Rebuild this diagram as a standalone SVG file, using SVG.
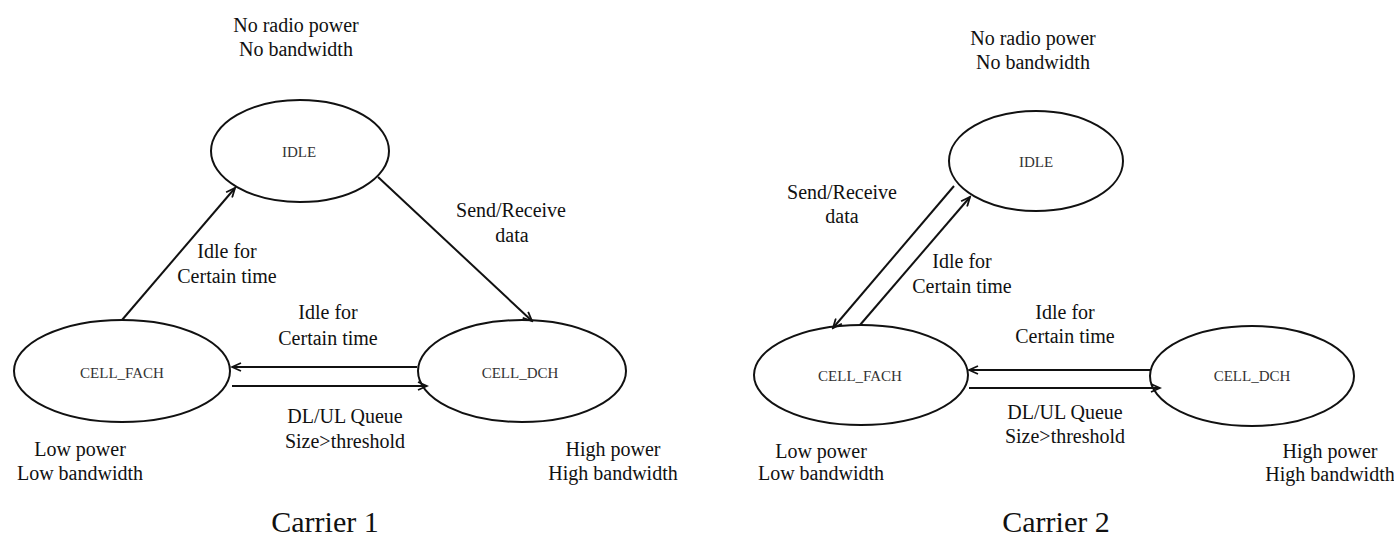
<svg xmlns="http://www.w3.org/2000/svg" width="1394" height="536" viewBox="0 0 1394 536">
  <style>
    .bg { fill: #ffffff; }
    .state { fill: none; stroke: #111; stroke-width: 2; }
    .state-label { font-family: "Liberation Serif", "Times New Roman", serif; font-size: 15px; fill: #333; text-anchor: middle; }
    .note { font-family: "Liberation Serif", "Times New Roman", serif; font-size: 20px; fill: #111; text-anchor: middle; }
    .caption { font-family: "Liberation Serif", "Times New Roman", serif; font-size: 30px; fill: #111; text-anchor: middle; }
    .edge { fill: none; stroke: #111; stroke-width: 2; marker-end: url(#arrow); }
  </style>
  <defs>
    <marker id="arrow" markerWidth="12" markerHeight="10" refX="10" refY="5" orient="auto" markerUnits="userSpaceOnUse">
      <path d="M1,1 L10,5 L1,9" fill="none" stroke="#111" stroke-width="1.8"/>
    </marker>
  </defs>

  <rect class="bg" x="0" y="0" width="1394" height="536"/>

  <!-- Carrier 1 state machine -->
  <g id="c1-idle">
    <ellipse class="state" cx="300" cy="151" rx="89" ry="51"/>
    <text class="state-label" x="299" y="157">IDLE</text>
  </g>
  <g id="c1-cell-fach">
    <ellipse class="state" cx="122" cy="371" rx="108" ry="51"/>
    <text class="state-label" x="122" y="378">CELL_FACH</text>
  </g>
  <g id="c1-cell-dch">
    <ellipse class="state" cx="522" cy="371" rx="104" ry="51"/>
    <text class="state-label" x="520" y="378">CELL_DCH</text>
  </g>

  <!-- Carrier 2 state machine -->
  <g id="c2-idle">
    <ellipse class="state" cx="1036" cy="161" rx="87" ry="50"/>
    <text class="state-label" x="1036" y="167">IDLE</text>
  </g>
  <g id="c2-cell-fach">
    <ellipse class="state" cx="861" cy="375" rx="107" ry="50"/>
    <text class="state-label" x="860" y="381">CELL_FACH</text>
  </g>
  <g id="c2-cell-dch">
    <ellipse class="state" cx="1252" cy="376" rx="102" ry="50"/>
    <text class="state-label" x="1252" y="381">CELL_DCH</text>
  </g>

  <!-- Transitions -->
  <g id="connectors">
    <line class="edge" x1="122" y1="320" x2="235" y2="188"/>
    <line class="edge" x1="378" y1="177" x2="532" y2="321"/>
    <line class="edge" x1="417" y1="367" x2="232" y2="367"/>
    <line class="edge" x1="232" y1="386" x2="427" y2="386"/>

    <line class="edge" x1="954" y1="186" x2="833" y2="328"/>
    <line class="edge" x1="860" y1="325" x2="970" y2="197"/>
    <line class="edge" x1="1150" y1="370" x2="969" y2="370"/>
    <line class="edge" x1="969" y1="388" x2="1160" y2="388"/>
  </g>

  <!-- Carrier 1 annotations -->
  <g id="c1-notes">
    <text class="note" x="296" y="32">No radio power</text>
    <text class="note" x="296" y="56">No bandwidth</text>
    <text class="note" x="511" y="217">Send/Receive</text>
    <text class="note" x="512" y="242">data</text>
    <text class="note" x="227" y="258">Idle for</text>
    <text class="note" x="227" y="283">Certain time</text>
    <text class="note" x="328" y="319">Idle for</text>
    <text class="note" x="328" y="345">Certain time</text>
    <text class="note" x="345" y="423">DL/UL Queue</text>
    <text class="note" x="345" y="448">Size&gt;threshold</text>
    <text class="note" x="80" y="456">Low power</text>
    <text class="note" x="80" y="480">Low bandwidth</text>
    <text class="note" x="613" y="456">High power</text>
    <text class="note" x="613" y="480">High bandwidth</text>
    <text class="caption" x="325" y="532">Carrier 1</text>
  </g>

  <!-- Carrier 2 annotations -->
  <g id="c2-notes">
    <text class="note" x="1033" y="45">No radio power</text>
    <text class="note" x="1033" y="69">No bandwidth</text>
    <text class="note" x="842" y="199">Send/Receive</text>
    <text class="note" x="842" y="223">data</text>
    <text class="note" x="962" y="268">Idle for</text>
    <text class="note" x="962" y="293">Certain time</text>
    <text class="note" x="1065" y="319">Idle for</text>
    <text class="note" x="1065" y="343">Certain time</text>
    <text class="note" x="1065" y="419">DL/UL Queue</text>
    <text class="note" x="1065" y="443">Size&gt;threshold</text>
    <text class="note" x="821" y="458">Low power</text>
    <text class="note" x="821" y="480">Low bandwidth</text>
    <text class="note" x="1330" y="458">High power</text>
    <text class="note" x="1330" y="481">High bandwidth</text>
    <text class="caption" x="1056" y="532">Carrier 2</text>
  </g>
</svg>
